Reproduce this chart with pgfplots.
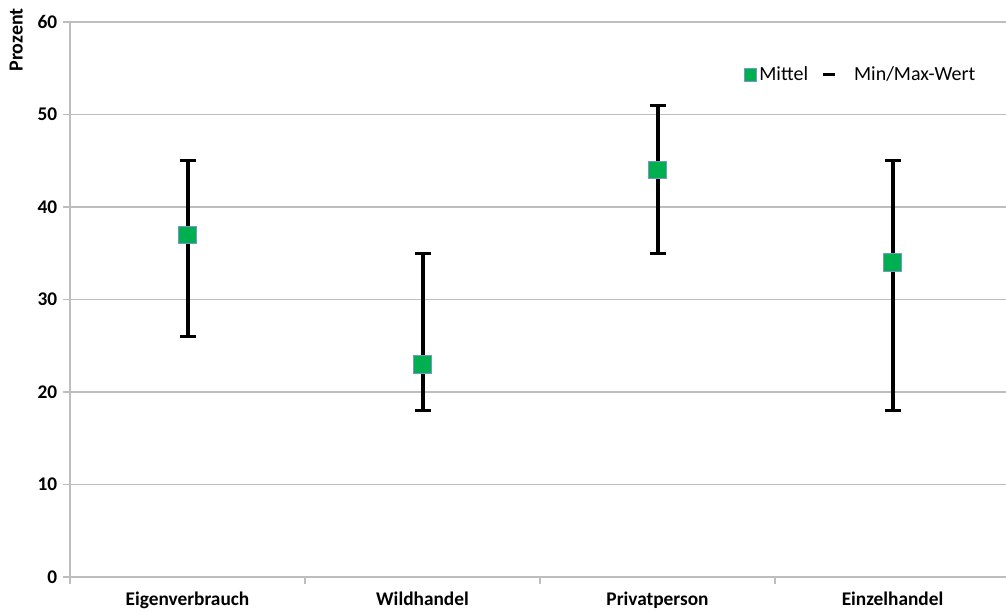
\documentclass[border=0pt]{standalone}
\usepackage{pgfplots}
\pgfplotsset{compat=1.18}
\usepackage{fontspec}
\setmainfont{Carlito}
\definecolor{mgreen}{RGB}{0,176,80}
\definecolor{mborder}{RGB}{120,150,200}
\definecolor{gridgray}{RGB}{190,190,190}
\pgfplotstableread{
x mean plus minus
0 37 8 11
1 23 12 5
2 44 7 9
3 34 11 16
}\datatable
\begin{document}
\begin{tikzpicture}
\begin{axis}[
  name=ax, at={(0,0)}, anchor=south west,
  scale only axis, width=702pt, height=416.25pt,
  xmin=-0.5, xmax=3.483, ymin=0, ymax=60,
  axis lines=left, axis line style={-, gridgray, line width=0.9pt},
  ytick={0,10,...,60},
  ymajorgrids, grid style={gridgray, line width=0.9pt},
  xtick={0,1,2,3},
  xticklabels={Eigenverbrauch,Wildhandel,Privatperson,Einzelhandel},
  minor xtick={-0.5,0.5,1.5,2.5,3.5},
  x tick style={draw=none},
  minor x tick style={draw=gridgray, line width=0.9pt},
  minor tick length=5pt,
  y tick style={gridgray, line width=0.9pt},
  major tick length=5pt,
  tick align=outside,
  ticklabel style={font=\fontsize{14.5}{16}\selectfont\bfseries},
  xticklabel style={yshift=-2.5pt},
  yticklabel style={xshift=-1pt},
  /pgf/number format/assume math mode=true,
  clip=false,
  legend style={at={(rel axis cs:0.715,0.905)}, anchor=west, draw=none, fill=none,
    font=\fontsize{15}{17}\selectfont, legend columns=2,
    /tikz/every even column/.append style={column sep=8pt}},
]
\addplot[draw=none, mark=none, forget plot,
  error bars/.cd, y dir=both, y explicit,
  error bar style={black, line width=3pt},
  error mark options={black, line width=2.5pt, mark size=6pt, rotate=90}]
  table[x=x, y=mean, y error plus=plus, y error minus=minus] {\datatable};
\addplot[only marks, mark=square*, mark size=6.6pt,
  mark options={fill=mgreen, draw=mborder, line width=0.5pt},
  legend image code/.code={\draw[fill=mgreen, draw=mborder, line width=0.5pt] (1pt,-4.7pt) rectangle (10.4pt,4.7pt);}]
  table[x=x, y=mean] {\datatable};
\addlegendentry{Mittel}
\addlegendimage{legend image code/.code={\draw[black, line width=2.5pt] (0pt,0pt) -- (9pt,0pt);}}
\addlegendentry{\hspace{11pt}Min/Max-Wert}
\end{axis}
\node[rotate=90, font=\fontsize{15}{17}\selectfont\bfseries] at (-40.4pt, 402.75pt) {Prozent};
\pgfresetboundingbox
\path (-52.5pt,-25.5pt) rectangle (702pt, 432.75pt);
\end{tikzpicture}
\end{document}
